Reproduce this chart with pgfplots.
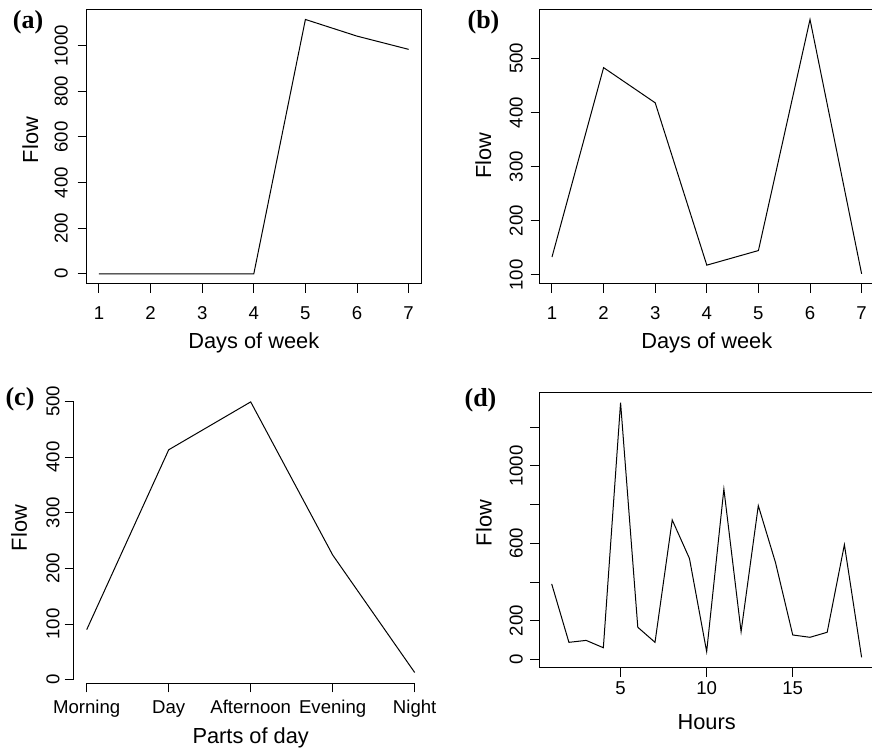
\documentclass[border=0pt]{standalone}
\usepackage{fontspec}
\setmainfont{Liberation Sans}
\newfontfamily\labfont{Liberation Serif}
\usepackage{pgfplots}
\pgfplotsset{compat=1.18}
\pgfplotsset{
 rbase/.style={
  scale only axis,
  anchor=south west,
  axis line style={line width=0.5pt},
  every tick/.style={black, line width=0.5pt},
  tick align=outside,
  major tick length=4.5pt,
  xtick pos=left, ytick pos=left,
  tick label style={font=\fontsize{9.3}{10}\selectfont, inner sep=0pt},
  label style={font=\fontsize{10.9}{12}\selectfont},
  /pgf/number format/assume math mode=true,
  /pgf/number format/1000 sep={},
  scaled ticks=false,
  yticklabel style={rotate=90, anchor=south},
  xticklabel style={anchor=north},
  minor tick num=0,
 }
}
\begin{document}
\begin{tikzpicture}
\useasboundingbox (0,0) rectangle (436pt,374.5pt);
% (a)
\begin{axis}[rbase, at={(43.3pt,232.5pt)}, width=167.2pt, height=137.35pt,
  xmin=0.76, xmax=7.24, ymin=-44.6, ymax=1159.6,
  xtick={1,2,3,4,5,6,7}, ytick={0,200,400,600,800,1000},
  xticklabel shift=6.5pt, yticklabel shift=4.65pt,
  xlabel={Days of week}, ylabel={Flow},
  xlabel style={at={(axis description cs:0.5,0)}, anchor=base, yshift=-32.5pt},
  ylabel style={at={(axis description cs:-0.1453,0.524)}, anchor=base}]
\addplot[black, line width=0.5pt] coordinates {(1,0) (2,0) (3,0) (4,0) (5,1115) (6,1042) (7,984)};
\end{axis}
% (b)
\begin{axis}[rbase, at={(269.8pt,232.5pt)}, width=167.2pt, height=137.35pt,
  xmin=0.76, xmax=7.24, ymin=83.2, ymax=590.8,
  xtick={1,2,3,4,5,6,7}, ytick={100,200,300,400,500},
  xticklabel shift=6.5pt, yticklabel shift=3.65pt,
  xlabel={Days of week}, ylabel={Flow},
  xlabel style={at={(axis description cs:0.5,0)}, anchor=base, yshift=-32.5pt},
  ylabel style={at={(axis description cs:-0.1453,0.467)}, anchor=base}]
\addplot[black, line width=0.5pt] coordinates {(1,133) (2,483) (3,418) (4,118) (5,145) (6,572) (7,102)};
\end{axis}
% (c)
\begin{axis}[rbase, at={(36.8pt,32.85pt)}, width=177.1pt, height=146.1pt,
  axis line style={draw=none}, clip=false,
  xmin=0.84, xmax=5.16, ymin=-6.4, ymax=518.4,
  xtick={1,2,3,4,5}, xticklabels={Morning,Day,Afternoon,Evening,Night},
  ytick={0,100,200,300,400,500},
  xticklabel shift=3.85pt, yticklabel shift=2.3pt,
  xlabel={Parts of day}, ylabel={Flow},
  xlabel style={at={(axis description cs:0.5,0)}, anchor=base, yshift=-30pt},
  ylabel style={at={(axis description cs:-0.1316,0.531)}, anchor=base}]
\addplot[black, line width=0.5pt] coordinates {(1,90) (2,413) (3,499) (4,224) (5,13)};
\draw[line width=0.5pt] (axis cs:1,-6.4) -- (axis cs:5,-6.4);
\draw[line width=0.5pt] (axis cs:0.84,0) -- (axis cs:0.84,500);
\end{axis}
% (d)
\begin{axis}[rbase, at={(269.65pt,40.7pt)}, width=167.35pt, height=137.6pt,
  xmin=0.28, xmax=19.72, ymin=-42.7, ymax=1380.7,
  xtick={5,10,15}, ytick={0,200,400,600,800,1000,1200},
  yticklabels={0,200,,600,,1000,},
  xticklabel shift=2.2pt, yticklabel shift=3.5pt,
  xlabel={Hours}, ylabel={Flow},
  xlabel style={at={(axis description cs:0.5,0)}, anchor=base, yshift=-30.8pt},
  ylabel style={at={(axis description cs:-0.1422,0.525)}, anchor=base}]
\addplot[black, line width=0.5pt] coordinates {(1,390) (2,88) (3,98) (4,60) (5,1328) (6,166) (7,88) (8,721) (9,522) (10,40) (11,881) (12,143) (13,795) (14,500) (15,126) (16,114) (17,140) (18,593) (19,10)};
\end{axis}
\node[font=\labfont\bfseries\fontsize{13}{14}\selectfont] at (14pt,363.5pt) {(a)};
\node[font=\labfont\bfseries\fontsize{13}{14}\selectfont] at (241.75pt,363.5pt) {(b)};
\node[font=\labfont\bfseries\fontsize{13}{14}\selectfont] at (10pt,175pt) {(c)};
\node[font=\labfont\bfseries\fontsize{13}{14}\selectfont] at (240.25pt,174.5pt) {(d)};
\end{tikzpicture}
\end{document}
